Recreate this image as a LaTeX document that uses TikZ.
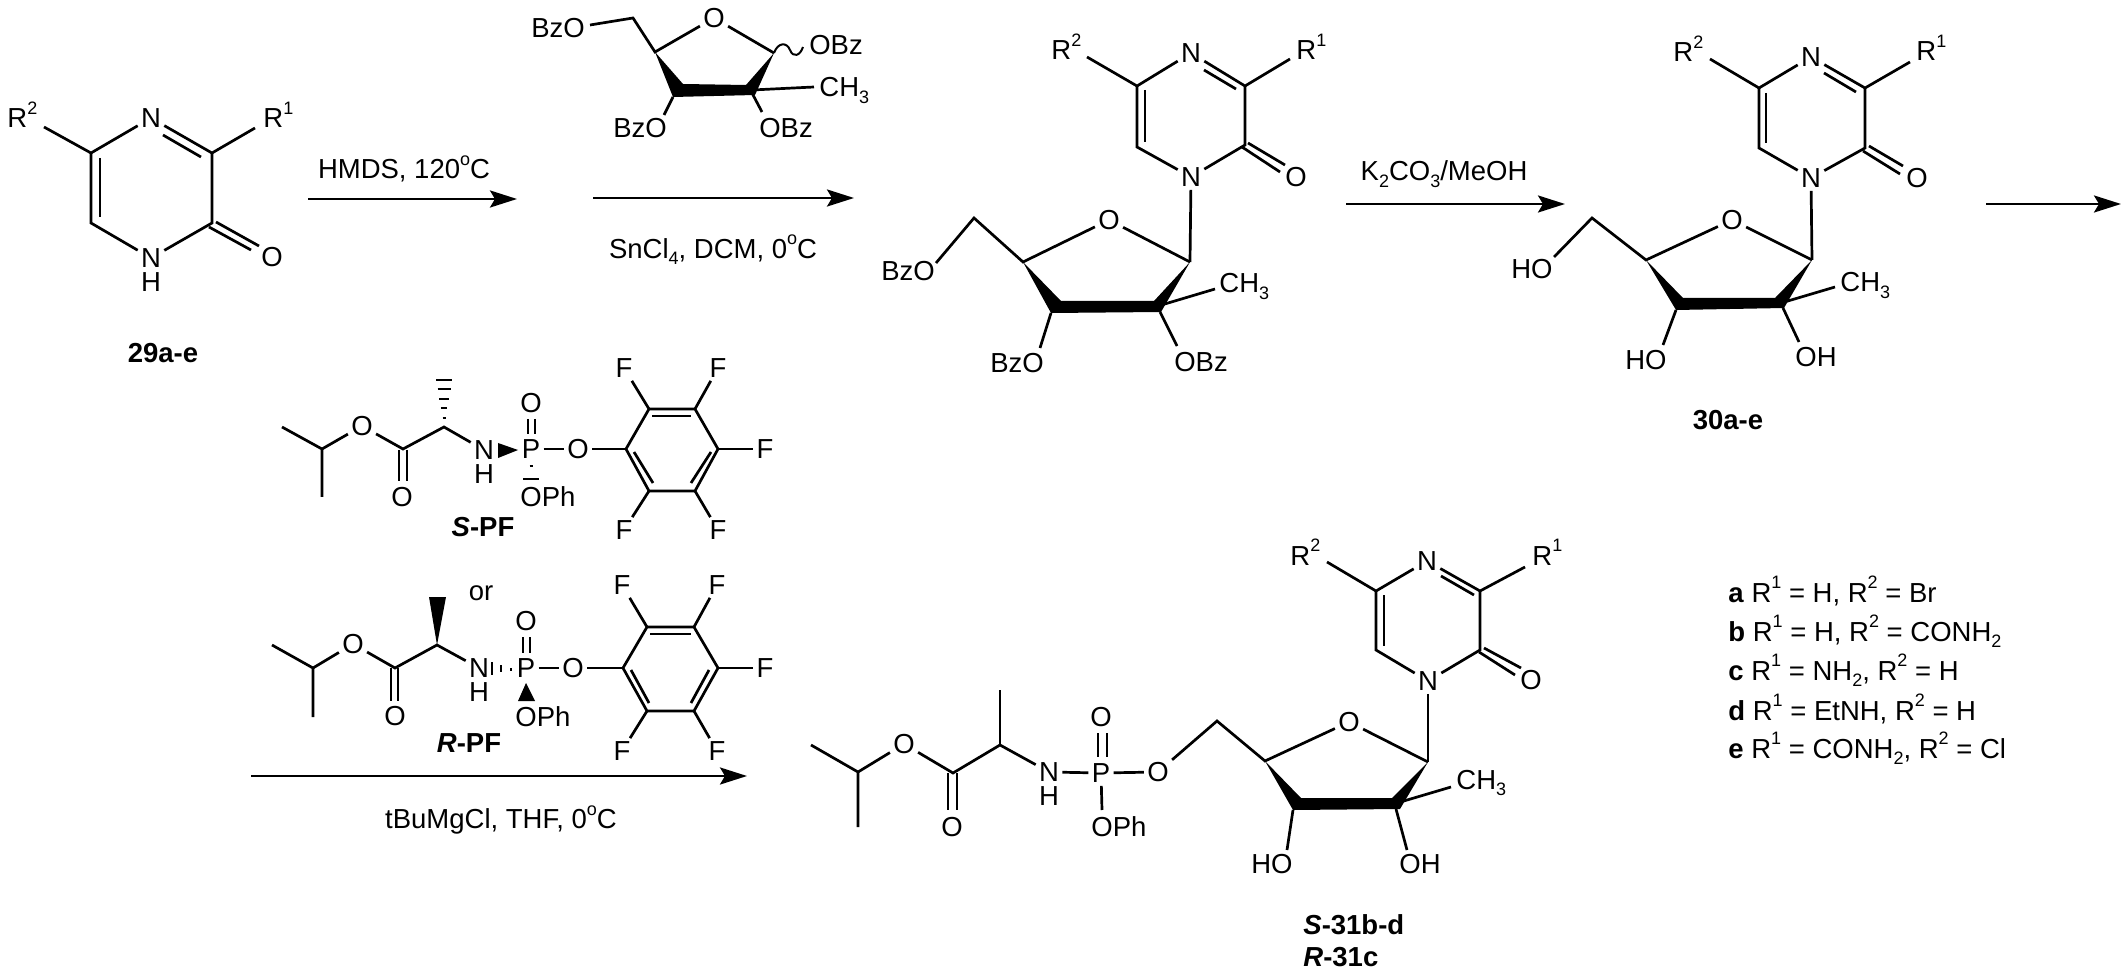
\documentclass[tikz,border=0pt]{standalone}
\usepackage{fontspec}
\setmainfont{Liberation Sans}
\usetikzlibrary{arrows.meta}
\newcommand\supx[1]{\raisebox{0.48em}{\fontsize{9}{9}\selectfont #1}}
\newcommand\subx[1]{\raisebox{-0.25em}{\fontsize{9}{9}\selectfont #1}}
\newcommand\Rone{R\supx{1}}
\newcommand\Rtwo{R\supx{2}}
\newcommand\CHthree{CH\subx{3}}
\newcommand\dgr{\supx{o}}
\tikzset{
  bond/.style={line width=1.35pt,line join=miter},
  rxn/.style={line width=1.4pt,-{Stealth[length=13.5pt,width=8.5pt,inset=2.5pt]}},
  txt/.style={font=\fontsize{13.75}{16}\selectfont,inner sep=0pt},
  atom/.style={txt,inner sep=1.5pt},
  basel/.style={txt,anchor=base west},
  comp/.style={txt,font=\fontsize{13.75}{16}\selectfont\bfseries},
  hashbar/.style={line width=1.1pt}
}
% pyrazinone ring bonds for a molecule with prefix #1
\newcommand\ringbonds[1]{%
  \draw[bond] (#1r2e) -- (#1c5) -- (#1n4) -- (#1c3) -- (#1r1e);
  \draw[bond] (#1c3) -- (#1c2) -- (#1n1) -- (#1c6) -- (#1c5);
  \draw[bond] (#1ia) -- (#1ib);
  \draw[bond] (#1ja) -- (#1jb);
  \draw[bond] (#1ka) -- (#1kb);
  \draw[bond] (#1la) -- (#1lb);
}
% furanose bonds for a molecule with prefix #1
\newcommand\sugarbonds[1]{%
  \draw[bond] (#1ch2e) -- (#1ch2) -- (#1c4) -- (#1o) -- (#1c1);
  \fill (#1c4) -- (#1w4a) -- (#1w1a) -- (#1c1) -- (#1w1b) -- (#1w4b) -- cycle;
  \draw[bond] (#1ch3s) -- (#1ch3e);
  \draw[bond] (#1c2b) -- (#1oe2);
  \draw[bond] (#1w4b) -- (#1oe3);
}
% pentafluorophenyl bonds
\newcommand\pfbonds[1]{%
  \draw[bond] (#1o) -- (#1v1);
  \draw[bond] (#1v1) -- (#1v2) -- (#1v3) -- (#1v4) -- (#1v5) -- (#1v6) -- cycle;
  \draw[bond] (#1v2) -- (#1ftl);
  \draw[bond] (#1v3) -- (#1ftr);
  \draw[bond] (#1v4) -- (#1fr);
  \draw[bond] (#1v6) -- (#1fbl);
  \draw[bond] (#1v5) -- (#1fbr);
  \draw[bond] (#1ia) -- (#1ib);
  \draw[bond] (#1ja) -- (#1jb);
  \draw[bond] (#1ka) -- (#1kb);
}
\begin{document}
\begin{tikzpicture}[x=0.5pt,y=-0.5pt]
\useasboundingbox (0,0) rectangle (2126,978);
\fill[white] (0,0) rectangle (2126,978);

%%%% 29a-e
\node[basel] (ar2) at (7,128) {\Rtwo};
\node[basel] (ar1) at (263,128) {\Rone};
\node[atom] (an4) at (151,118) {N};
\node[atom] (an1) at (151,258) {N};
\node[atom] (anh) at (151,282) {H};
\node[atom] (aox) at (272,257) {O};
\path coordinate (ac5) at (91,153) coordinate (ac3) at (212,153) coordinate (ac2) at (212,223) coordinate (ac6) at (91,223)
  coordinate (ar2e) at (44,127) coordinate (ar1e) at (255,128)
  coordinate (aia) at (163,135) coordinate (aib) at (201,157)
  coordinate (aja) at (100,158) coordinate (ajb) at (100,217)
  coordinate (aka) at (216,222) coordinate (akb) at (259,246)
  coordinate (ala) at (209,227) coordinate (alb) at (251,250);
\ringbonds{a}
\node[comp] (lab29) at (163,353) {29a-e};

%%%% arrows
\path coordinate (r1s) at (308,199) coordinate (r1e) at (517,199)
  coordinate (r2s) at (593,198) coordinate (r2e) at (854,198)
  coordinate (r3s) at (1346,204) coordinate (r3e) at (1565,204)
  coordinate (r4s) at (1986,204) coordinate (r4e) at (2121,204)
  coordinate (r5s) at (251,776) coordinate (r5e) at (747,776);
\draw[rxn] (r1s) -- (r1e);
\draw[rxn] (r2s) -- (r2e);
\draw[rxn] (r3s) -- (r3e);
\draw[rxn] (r4s) -- (r4e);
\draw[rxn] (r5s) -- (r5e);
\node[txt] (t1) at (404,169) {HMDS, 120\dgr C};
\node[txt] (t2) at (713,250) {SnCl\subx{4}, DCM, 0\dgr C};
\node[txt] (t3) at (1444,174) {K\subx{2}CO\subx{3}/MeOH};
\node[txt] (t5) at (501,820) {tBuMgCl, THF, 0\dgr C};

%%%% top sugar reagent
\node[atom] (to) at (714,18) {O};
\node[txt] (tbz1) at (558,28) {BzO};
\node[txt] (tbz2) at (836,45) {OBz};
\node[txt] (tbz3) at (786,128) {OBz};
\node[txt] (tbz4) at (640,128) {BzO};
\node[basel] (tch3) at (819,97) {\CHthree};
\path coordinate (tch2e) at (590,25) coordinate (tch2) at (633,18) coordinate (tc4) at (655,52) coordinate (tc1) at (774,53)
  coordinate (tw4a) at (683,84) coordinate (tw4b) at (673,97) coordinate (tw1a) at (746,85) coordinate (tw1b) at (755,95)
  coordinate (tch3s) at (752,90) coordinate (tch3e) at (814,87) coordinate (tc2b) at (752,93)
  coordinate (toe2) at (762,112) coordinate (toe3) at (664,115) coordinate (twv) at (803,47);
\sugarbonds{t}
\draw[line width=1pt] (tc1) .. controls (778,42) and (787,42) .. (790,50) .. controls (793,58) and (800,56) .. (twv);

%%%% intermediate (BzO)
\node[basel] (br2) at (1051,60) {\Rtwo};
\node[basel] (br1) at (1296,60) {\Rone};
\node[atom] (bn4) at (1191,53) {N};
\node[atom] (bn1) at (1191,177) {N};
\node[atom] (box) at (1296,177) {O};
\path coordinate (bc5) at (1137,86) coordinate (bc3) at (1245,86) coordinate (bc2) at (1245,145) coordinate (bc6) at (1137,147)
  coordinate (br2e) at (1087,57) coordinate (br1e) at (1290,59)
  coordinate (bia) at (1204,70) coordinate (bib) at (1236,89)
  coordinate (bja) at (1145,90) coordinate (bjb) at (1145,142)
  coordinate (bka) at (1248,143) coordinate (bkb) at (1285,165)
  coordinate (bla) at (1242,147) coordinate (blb) at (1280,172);
\ringbonds{b}
\node[atom] (bo) at (1109,220) {O};
\node[txt] (bbz1) at (908,271) {BzO};
\node[txt] (bbz2) at (1201,362) {OBz};
\node[txt] (bbz3) at (1017,363) {BzO};
\node[basel] (bch3) at (1219,293) {\CHthree};
\path coordinate (bch2e) at (936,263) coordinate (bch2) at (974,218) coordinate (bc4) at (1023,262) coordinate (bc1) at (1190,262)
  coordinate (bw4a) at (1061,301) coordinate (bw4b) at (1051,313) coordinate (bw1a) at (1154,301) coordinate (bw1b) at (1161,312)
  coordinate (bch3s) at (1158,306) coordinate (bch3e) at (1215,289) coordinate (bc2b) at (1160,312)
  coordinate (boe2) at (1177,346) coordinate (boe3) at (1040,348);
\sugarbonds{b}
\draw[bond] (bn1) -- (bc1);

%%%% 30a-e
\node[basel] (cr2) at (1673,62) {\Rtwo};
\node[basel] (cr1) at (1916,61) {\Rone};
\node[atom] (cn4) at (1811,57) {N};
\node[atom] (cn1) at (1811,178) {N};
\node[atom] (cox) at (1917,178) {O};
\path coordinate (cc5) at (1759,88) coordinate (cc3) at (1865,88) coordinate (cc2) at (1865,148) coordinate (cc6) at (1759,148)
  coordinate (cr2e) at (1710,59) coordinate (cr1e) at (1910,62)
  coordinate (cia) at (1824,73) coordinate (cib) at (1856,92)
  coordinate (cja) at (1766,93) coordinate (cjb) at (1766,143)
  coordinate (cka) at (1869,146) coordinate (ckb) at (1903,166)
  coordinate (cla) at (1863,151) coordinate (clb) at (1900,174);
\ringbonds{c}
\node[atom] (co) at (1732,220) {O};
\node[txt] (cho1) at (1532,269) {HO};
\node[txt] (cho2) at (1816,357) {OH};
\node[txt] (cho3) at (1646,360) {HO};
\node[basel] (cch3) at (1840,292) {\CHthree};
\path coordinate (cch2e) at (1554,257) coordinate (cch2) at (1592,218) coordinate (cc4) at (1646,260) coordinate (cc1) at (1812,260)
  coordinate (cw4a) at (1683,298) coordinate (cw4b) at (1676,310) coordinate (cw1a) at (1775,298) coordinate (cw1b) at (1784,308)
  coordinate (cch3s) at (1781,303) coordinate (cch3e) at (1835,287) coordinate (cc2b) at (1783,308)
  coordinate (coe2) at (1799,342) coordinate (coe3) at (1663,345);
\sugarbonds{c}
\draw[bond] (cn1) -- (cc1);
\node[comp] (lab30) at (1728,420) {30a-e};

%%%% S-PF
\path coordinate (sme1) at (282,427) coordinate (sip) at (322,449) coordinate (sme2) at (322,497)
  coordinate (scc) at (403,449) coordinate (sch) at (444,427)
  coordinate (soa) at (399,450) coordinate (sob) at (399,481) coordinate (soc) at (407,450) coordinate (sod) at (407,481)
  coordinate (spa) at (528,419) coordinate (spb) at (528,434) coordinate (spc) at (535,419) coordinate (spd) at (535,434)
  coordinate (swa) at (498,443) coordinate (swb) at (498,458) coordinate (swc) at (518,450);
\node[atom] (soe) at (362,426) {O};
\node[atom] (sox) at (402,497) {O};
\node[atom] (sn) at (484,450) {N};
\node[atom] (shh) at (484,474) {H};
\node[atom] (sp) at (531,449) {P};
\node[atom] (spo) at (531,403) {O};
\node[atom] (so) at (578,449) {O};
\node[txt] (soph) at (548,497) {OPh};
\draw[bond] (sme1) -- (sip) -- (sme2);
\draw[bond] (sip) -- (soe) -- (scc) -- (sch) -- (sn);
\draw[bond] (soa) -- (sob);
\draw[bond] (soc) -- (sod);
\draw[bond] (spa) -- (spb);
\draw[bond] (spc) -- (spd);
\draw[bond] (sp) -- (so);
\fill (swa) -- (swc) -- (swb) -- cycle;
\foreach \yy/\hw in {380/8,389/6.5,399/5,408/3.2,418/1.5}
  \draw[hashbar] (444-\hw,\yy) -- (444+\hw,\yy);
\draw[hashbar] (529.5,466) -- (532.5,466);
\draw[hashbar] (523,479) -- (539,479);
\path coordinate (sv1) at (626,449) coordinate (sv2) at (649,409) coordinate (sv3) at (695,409)
  coordinate (sv4) at (718,449) coordinate (sv5) at (695,491) coordinate (sv6) at (649,491)
  coordinate (sia) at (652,416) coordinate (sib) at (691,416)
  coordinate (sja) at (634,452) coordinate (sjb) at (653,483)
  coordinate (ska) at (711,452) coordinate (skb) at (691,483);
\node[atom] (sftl) at (624,368) {F};
\node[atom] (sftr) at (718,368) {F};
\node[atom] (sfr) at (765,449) {F};
\node[atom] (sfbl) at (624,530) {F};
\node[atom] (sfbr) at (718,530) {F};
\pfbonds{s}
\node[comp] (labspf) at (483,527) {\textit{S}-PF};

\node[txt] (orr) at (481,593) {or};

%%%% R-PF
\path coordinate (rme1) at (272,645) coordinate (rip) at (313,668) coordinate (rme2) at (313,717)
  coordinate (rcc) at (395,668) coordinate (rch) at (437,645)
  coordinate (roa) at (391,668) coordinate (rob) at (391,701) coordinate (roc) at (398,668) coordinate (rod) at (398,701)
  coordinate (rpa) at (523,637) coordinate (rpb) at (523,653) coordinate (rpc) at (530,637) coordinate (rpd) at (530,653)
  coordinate (rwa) at (429,597) coordinate (rwb) at (446,597)
  coordinate (rxa) at (518,701) coordinate (rxb) at (535,701) coordinate (rxc) at (526,683);
\node[atom] (roe) at (353,644) {O};
\node[atom] (rox) at (395,716) {O};
\node[atom] (rn) at (479,668) {N};
\node[atom] (rhh) at (479,692) {H};
\node[atom] (rp) at (526,668) {P};
\node[atom] (rpo) at (526,621) {O};
\node[atom] (ro) at (573,668) {O};
\node[txt] (roph) at (543,717) {OPh};
\draw[bond] (rme1) -- (rip) -- (rme2);
\draw[bond] (rip) -- (roe) -- (rcc) -- (rch) -- (rn);
\draw[bond] (roa) -- (rob);
\draw[bond] (roc) -- (rod);
\draw[bond] (rpa) -- (rpb);
\draw[bond] (rpc) -- (rpd);
\draw[bond] (rp) -- (ro);
\fill (rch) -- (rwa) -- (rwb) -- cycle;
\fill (rxc) -- (rxa) -- (rxb) -- cycle;
\draw[hashbar] (492,662) -- (492,675);
\draw[hashbar] (501,665) -- (501,672);
\draw[hashbar] (511,668) -- (511,671);
\path coordinate (rv1) at (623,668) coordinate (rv2) at (647,627) coordinate (rv3) at (694,627)
  coordinate (rv4) at (718,668) coordinate (rv5) at (694,711) coordinate (rv6) at (647,711)
  coordinate (ria) at (650,634) coordinate (rib) at (691,634)
  coordinate (rja) at (631,670) coordinate (rjb) at (649,703)
  coordinate (rka) at (709,670) coordinate (rkb) at (691,703);
\node[atom] (rftl) at (622,585) {F};
\node[atom] (rftr) at (717,585) {F};
\node[atom] (rfr) at (765,668) {F};
\node[atom] (rfbl) at (622,751) {F};
\node[atom] (rfbr) at (717,751) {F};
\pfbonds{r}
\node[comp] (labrpf) at (469,743) {\textit{R}-PF};

%%%% 31
\node[basel] (dr2) at (1290,565) {\Rtwo};
\node[basel] (dr1) at (1532,565) {\Rone};
\node[atom] (dn4) at (1427,561) {N};
\node[atom] (dn1) at (1428,681) {N};
\node[atom] (dox) at (1531,680) {O};
\path coordinate (dc5) at (1376,591) coordinate (dc3) at (1480,591) coordinate (dc2) at (1480,650) coordinate (dc6) at (1376,650)
  coordinate (dr2e) at (1327,562) coordinate (dr1e) at (1525,567)
  coordinate (dia) at (1441,576) coordinate (dib) at (1474,595)
  coordinate (dja) at (1384,595) coordinate (djb) at (1384,646)
  coordinate (dka) at (1484,648) coordinate (dkb) at (1521,668)
  coordinate (dla) at (1479,652) coordinate (dlb) at (1515,675);
\ringbonds{d}
\node[atom] (do) at (1349,722) {O};
\node[atom] (dch2e) at (1158,772) {O};
\node[txt] (dho2) at (1420,864) {OH};
\node[txt] (dho3) at (1272,864) {HO};
\node[basel] (dch3) at (1456,789) {\CHthree};
\path coordinate (dch2) at (1217,721) coordinate (dc4) at (1265,761) coordinate (dc1) at (1428,762)
  coordinate (dw4a) at (1301,798) coordinate (dw4b) at (1293,810) coordinate (dw1a) at (1392,798) coordinate (dw1b) at (1400,809)
  coordinate (dch3s) at (1397,803) coordinate (dch3e) at (1451,787) coordinate (dc2b) at (1396,809)
  coordinate (doe2) at (1407,850) coordinate (doe3) at (1287,850);
\sugarbonds{d}
\draw[bond] (dn1) -- (dc1);
\path coordinate (dme1) at (811,745) coordinate (dip) at (858,772) coordinate (dme2) at (858,827)
  coordinate (dcc) at (953,773) coordinate (dch) at (1000,745) coordinate (dme3) at (1000,690)
  coordinate (doa) at (948,773) coordinate (dob) at (948,810) coordinate (doc) at (957,773) coordinate (dod) at (957,810)
  coordinate (dpa) at (1098,733) coordinate (dpb) at (1098,757) coordinate (dpc) at (1107,733) coordinate (dpd) at (1107,757)
  coordinate (dpe) at (1102,810);
\node[atom] (doe) at (904,744) {O};
\node[atom] (doxx) at (952,827) {O};
\node[atom] (dn) at (1049,772) {N};
\node[atom] (dhh) at (1049,796) {H};
\node[atom] (dp) at (1101,773) {P};
\node[atom] (dpo) at (1101,717) {O};
\node[txt] (doph) at (1119,827) {OPh};
\draw[bond] (dme1) -- (dip) -- (dme2);
\draw[bond] (dip) -- (doe) -- (dcc) -- (dch) -- (dn) -- (dp) -- (dch2e);
\draw[bond] (dch) -- (dme3);
\draw[bond] (doa) -- (dob);
\draw[bond] (doc) -- (dod);
\draw[bond] (dpa) -- (dpb);
\draw[bond] (dpc) -- (dpd);
\draw[bond] (dp) -- (dpe);
\node[comp,anchor=west] (lab31a) at (1303,925) {\textit{S}-31b-d};
\node[comp,anchor=west] (lab31b) at (1303,957) {\textit{R}-31c};

%%%% legend
\node[basel] (la) at (1728,602) {\textbf{a} \Rone{} = H, \Rtwo{} = Br};
\node[basel] (lb) at (1728,641) {\textbf{b} \Rone{} = H, \Rtwo{} = CONH\subx{2}};
\node[basel] (lc) at (1728,680) {\textbf{c} \Rone{} = NH\subx{2}, \Rtwo{} = H};
\node[basel] (ld) at (1728,720) {\textbf{d} \Rone{} = EtNH, \Rtwo{} = H};
\node[basel] (le) at (1728,758) {\textbf{e} \Rone{} = CONH\subx{2}, \Rtwo{} = Cl};
\end{tikzpicture}
\end{document}
